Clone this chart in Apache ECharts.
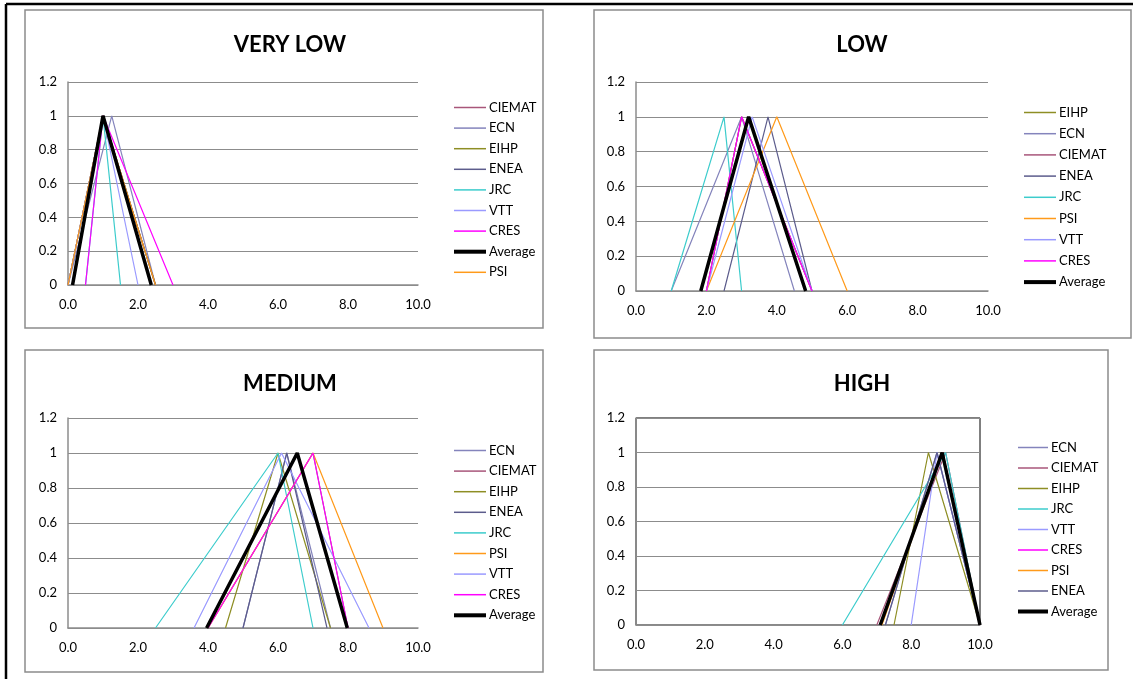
<!DOCTYPE html>
<html>
<head>
<meta charset="utf-8">
<script src="https://cdn.jsdelivr.net/npm/echarts@6/dist/echarts.min.js"></script>
<style>
  html, body { margin: 0; padding: 0; background: #fff; }
  #main { width: 1136px; height: 679px; }
</style>
</head>
<body>
<div id="main"></div>
<script>
// tick values
const xTicks = [0, 2, 4, 6, 8, 10];
const yTicks = [0, 0.2, 0.4, 0.6, 0.8, 1, 1.2];

// each expert gives a triangle: [left foot, peak, right foot]
const veryLowNames = ['CIEMAT', 'ECN', 'EIHP', 'ENEA', 'JRC', 'VTT', 'CRES', 'Average', 'PSI'];
const veryLowTri = [
  [0, 1, 2.5], [0, 1.25, 2.5], [0, 1, 2.5], [0, 1, 2.5], [0.5, 1, 1.5],
  [0, 1, 2], [0.5, 1, 3], [0.13, 1, 2.38], [0, 1, 2.5]
];

const lowNames = ['EIHP', 'ECN', 'CIEMAT', 'ENEA', 'JRC', 'PSI', 'VTT', 'CRES', 'Average'];
const lowTri = [
  [2, 3, 5], [1, 3, 4.5], [2, 3, 5], [2.5, 3.75, 5], [1, 2.5, 3],
  [2, 4, 6], [2, 3.3, 5], [2, 3, 5], [1.84, 3.2, 4.82]
];

const mediumNames = ['ECN', 'CIEMAT', 'EIHP', 'ENEA', 'JRC', 'PSI', 'VTT', 'CRES', 'Average'];
const mediumTri = [
  [5, 6.25, 7.5], [4, 7, 8], [4.5, 6, 7.5], [5, 6.25, 7.4], [2.5, 6, 7],
  [4, 7, 9], [3.6, 6.1, 8.6], [4, 7, 8], [3.96, 6.55, 7.98]
];

const highNames = ['ECN', 'CIEMAT', 'EIHP', 'JRC', 'VTT', 'CRES', 'PSI', 'ENEA', 'Average'];
const highTri = [
  [7.25, 8.75, 10], [7, 9, 10], [7.5, 8.5, 10], [6, 9, 10], [8, 8.75, 10],
  [7.1, 8.9, 10], [7.15, 8.9, 10], [7.25, 8.75, 10], [7.1, 8.9, 10]
];

const colors = {
  CIEMAT: '#a8567a', ECN: '#8484bc', EIHP: '#8e8e24', ENEA: '#5c5c8c',
  JRC: '#3ccccc', VTT: '#9a9aff', CRES: '#ff00ff', PSI: '#ff9a1a', Average: '#000000'
};

const FONT = 'Lato, "Open Sans", sans-serif';

const panels = [
  { title: 'VERY LOW', names: veryLowNames, tri: veryLowTri,
    grid: { left: 68, top: 82, width: 350, height: 203 }, titleX: 285, titleY: 29,
    legend: { left: 452, top: 101, gap: 7.6, w: 32 }, box: [25, 10, 518, 318] },
  { title: 'LOW', names: lowNames, tri: lowTri,
    grid: { left: 636, top: 82, width: 352, height: 209 }, titleX: 857, titleY: 29,
    legend: { left: 1022, top: 106, gap: 8.2, w: 32 }, box: [594, 10, 537, 328] },
  { title: 'MEDIUM', names: mediumNames, tri: mediumTri,
    grid: { left: 68, top: 418, width: 350, height: 210 }, titleX: 285, titleY: 368,
    legend: { left: 452, top: 444, gap: 7.6, w: 32 }, box: [25, 350, 518, 322] },
  { title: 'HIGH', names: highNames, tri: highTri,
    grid: { left: 636, top: 418, width: 344, height: 207 }, titleX: 857, titleY: 368,
    legend: { left: 1016, top: 441, gap: 7.5, w: 30 }, box: [594, 350, 514, 320], border: true }
];

const chart = echarts.init(document.getElementById('main'));

const option = {
  animation: false,
  backgroundColor: '#fff',
  title: [], legend: [], grid: [], xAxis: [], yAxis: [], series: [],
  graphic: []
};

panels.forEach((p, i) => {
  option.graphic.push({
    type: 'rect', silent: true, z: -1,
    shape: { x: p.box[0], y: p.box[1], width: p.box[2], height: p.box[3] },
    style: { fill: '#fff', stroke: '#8c8c8c', lineWidth: 1.5 }
  });
  option.title.push({
    text: p.title, left: p.titleX, top: p.titleY, textAlign: 'center',
    textStyle: { fontFamily: FONT, fontSize: 22, fontWeight: 'bold', color: '#000' }
  });
  option.grid.push(Object.assign({
    show: !!p.border, borderColor: '#000', borderWidth: 1, backgroundColor: 'transparent'
  }, p.grid));
  option.xAxis.push({
    type: 'value', gridIndex: i, min: xTicks[0], max: xTicks[xTicks.length - 1],
    interval: xTicks[1] - xTicks[0],
    axisLine: { show: true, lineStyle: { color: '#8c8c8c', width: 1.5 } },
    axisTick: { show: false },
    splitLine: { show: false },
    axisLabel: { margin: 13, color: '#000', fontFamily: FONT, fontSize: 13,
      formatter: v => v.toFixed(1) }
  });
  option.yAxis.push({
    type: 'value', gridIndex: i, min: yTicks[0], max: yTicks[yTicks.length - 1],
    interval: 0.2,
    axisLine: { show: true, lineStyle: { color: '#8c8c8c', width: 1.5 } },
    axisTick: { show: false },
    splitLine: { show: true, lineStyle: { color: '#8c8c8c', width: 1 } },
    axisLabel: { margin: 11, color: '#000', fontFamily: FONT, fontSize: 13,
      formatter: v => String(Math.round(v * 10) / 10) }
  });
  p.names.forEach((name, k) => {
    const t = p.tri[k];
    const avg = name === 'Average';
    option.series.push({
      type: 'line', name: name, xAxisIndex: i, yAxisIndex: i,
      symbol: 'none', silent: true,
      data: [[t[0], 0], [t[1], 1], [t[2], 0]],
      lineStyle: { color: colors[name], width: avg ? 3.5 : 1.2 },
      itemStyle: { color: colors[name] },
      z: avg ? 3 : 2
    });
  });
  option.legend.push({
    orient: 'vertical', left: p.legend.left, top: p.legend.top, padding: 0,
    itemWidth: p.legend.w, itemHeight: 14, itemGap: p.legend.gap,
    selectedMode: false,
    itemStyle: { opacity: 0 },
    data: p.names.map(n => n === 'Average'
      ? { name: n, lineStyle: { width: 4, color: '#000' } }
      : { name: n, lineStyle: { width: 1.5, color: colors[n] } }),
    textStyle: { fontFamily: FONT, fontSize: 13, color: '#000', padding: [0, 0, 0, -2] }
  });
});

// outer frame edges
option.graphic.push(
  { type: 'line', silent: true, shape: { x1: 6, y1: 4, x2: 1133, y2: 4 },
    style: { stroke: '#000', lineWidth: 2.5 } },
  { type: 'line', silent: true, shape: { x1: 6, y1: 4, x2: 6, y2: 679 },
    style: { stroke: '#000', lineWidth: 2.5 } }
);

chart.setOption(option);
</script>
</body>
</html>
